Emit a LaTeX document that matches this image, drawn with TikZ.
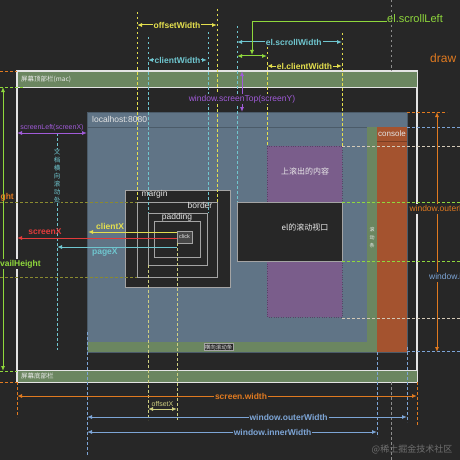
\documentclass[tikz,border=0pt]{standalone}
\usepackage{fontspec}
\setmainfont{Liberation Sans}
\newfontfamily\cjk{Noto Sans CJK SC}
\usetikzlibrary{arrows.meta}
\definecolor{bg}{HTML}{272727}
\definecolor{scrline}{HTML}{E4E4E4}
\definecolor{bargreen}{HTML}{6B8660}
\definecolor{slate}{HTML}{607486}
\definecolor{slatedark}{HTML}{4B5B69}
\definecolor{plum}{HTML}{7A5D8B}
\definecolor{plumdark}{HTML}{5A4168}
\definecolor{sienna}{HTML}{A4532F}
\definecolor{boxgray}{HTML}{A4A4A4}
\definecolor{yel}{HTML}{E4DF4E}
\definecolor{cyn}{HTML}{6FC6CF}
\definecolor{lime}{HTML}{8FD83C}
\definecolor{purp}{HTML}{A15BD9}
\definecolor{orng}{HTML}{E07A20}
\definecolor{redc}{HTML}{E23B3B}
\definecolor{blu}{HTML}{7DA5D6}
\definecolor{olive}{HTML}{8A8A30}
\definecolor{beige}{HTML}{D4CAB8}
\definecolor{paleyel}{HTML}{CFCF80}
\definecolor{dotgray}{HTML}{8C8C8C}
\newcommand{\dimarrow}[6] {\draw [#5, line width=1pt, {Latex[length=5pt,width=4pt]}-{Latex[length=5pt,width=4pt]}] (#1) -- (#2) node [pos=0.5, dimlabel, text=#5, #6] (#3) {#4};}
\newcommand{\ptrarrow}[6] {\draw [#5, line width=1pt, -{Latex[length=5pt,width=4pt]}] (#1) -- (#2) node [ptrlabel, text=#5, #6] (#3) {#4};}
\newcommand{\guide}[4] {\draw [guide, #1] (#2,#3) -- (#2,#4);}
\newcommand{\hguide}[4] {\draw [guide, #1] (#3,#2) -- (#4,#2);}

\begin{document}
\begin{tikzpicture}[x=1pt, y=-1pt,
  guide/.style={line width=0.9pt, dash pattern=on 2.5pt off 2.5pt},
  dimlabel/.style={fill=bg, inner sep=1pt, font=\bfseries\fontsize{8.5}{10}\selectfont},
  ptrlabel/.style={inner sep=1pt, font=\bfseries\fontsize{8.5}{10}\selectfont},
  paneltext/.style={inner sep=0pt, text=scrline, font=\fontsize{8.5}{10}\selectfont},
  cjktext/.style={inner sep=0pt, text=white!92!black, font=\cjk\fontsize{8}{9}\selectfont}]
\fill [bg] (0,0) rectangle (460,460);
\useasboundingbox (0,0) rectangle (460,460);
\clip (0,0) rectangle (460,460);

% screen
\draw [scrline, line width=1.3pt] (17,71) rectangle (417,382);
\draw [scrline, line width=1pt, fill=bargreen] (17,71) rectangle (417,87);
\draw [scrline, line width=1pt, fill=bargreen] (17,370) rectangle (417,382);
\node [cjktext, anchor=west, font=\cjk\fontsize{6.5}{7}\selectfont] (topbar) at (21,79) {屏幕顶部栏(mac)};
\node [cjktext, anchor=west, font=\cjk\fontsize{6.5}{7}\selectfont] (bottombar) at (21,376) {屏幕底部栏};

% browser
\fill [slate] (87,112) rectangle (407,352);
\draw [slatedark, line width=1pt] (87,127) -- (407,127);
\fill [bargreen] (87,342) rectangle (367,352);
\fill [bargreen] (367,127) rectangle (377,352);
\fill [sienna] (377,127) rectangle (407,352);
\draw [sienna!75!black] (377,141.5) -- (407,141.5);
\draw [slatedark, line width=0.8pt] (87,112) rectangle (407,352);
\node [paneltext, anchor=west] (host) at (92,119.5) {localhost:8080};
\node [paneltext, font=\fontsize{8}{9}\selectfont] (console) at (392,134) {console};
\node [cjktext, fill=bg, draw=boxgray, inner sep=1pt, font=\cjk\fontsize{5.5}{6}\selectfont] (hbar) at (218.5,347) {横向滚动条};
\node [cjktext, align=center, font=\cjk\fontsize{5}{8}\selectfont] (vbar) at (372,238) {滚\\动\\条};

% element scrolling
\draw [plumdark, fill=plum, dotted] (267,146) rectangle (342,317);
\node [cjktext] (upout) at (305,171) {上滚出的内容};
\draw [boxgray, fill=bg, line width=0.8pt] (237,202) rectangle (342,261);
\node [cjktext] (viewport) at (305,227) {el的滚动视口};

% box model
\draw [boxgray, fill=bg, line width=0.8pt] (125,190) rectangle (230,287);
\draw [boxgray, line width=0.8pt] (137,202) rectangle (217,277);
\draw [boxgray, line width=0.8pt] (148,213) rectangle (207,265);
\draw [boxgray, line width=0.8pt] (154,221) rectangle (200,257);
\node [paneltext] (margin) at (154.5,194) {margin};
\node [paneltext] (border) at (200,205) {border};
\node [paneltext] (padding) at (177,217) {padding};
\node [draw=boxgray, fill=bg!85!white, line width=0.8pt, minimum width=15pt, minimum height=12pt, inner sep=0pt, text=scrline, font=\fontsize{5.5}{6}\selectfont] (click) at (184.5,237) {click};

% guides
\guide{yel}{137}{12}{202}
\guide{yel}{217}{9}{202}
\guide{cyn}{148}{37}{213}
\guide{cyn}{208}{32}{213}
\guide{cyn}{237}{26}{202}
\guide{yel}{267}{47}{146}
\guide{yel}{342}{33}{146}
\guide{cyn}{57}{133}{350}
\guide{paleyel}{148}{265}{420}
\guide{paleyel}{177}{243}{420}
\guide{orng}{17}{382}{417}
\guide{orng}{417}{382}{426}
\guide{blu}{87}{332}{455}
\guide{blu}{377}{352}{437}
\guide{blu}{407}{347}{422}
\guide{dotgray}{391}{0}{71}
\guide{dotgray}{391}{382}{460}
\hguide{olive}{202}{0}{137}
\hguide{olive}{277}{0}{137}
\hguide{orng}{71}{0}{17}
\hguide{orng}{382}{0}{17}
\hguide{orng}{112}{407}{447}
\hguide{lime}{87}{0}{23}
\hguide{lime}{371}{0}{17}
\hguide{lime}{202}{342}{460}
\hguide{lime}{261}{342}{460}
\hguide{beige}{146}{342}{460}
\hguide{beige}{318}{342}{460}
\hguide{blu}{127}{407}{460}
\hguide{blu}{351}{407}{460}
\node [inner sep=0.5pt, fill=bg, text=cyn, align=center, font=\cjk\fontsize{6.5}{7.9}\selectfont] (docscroll) at (57,176) {文\\档\\横\\向\\滚\\动\\处};

% widths on top
\coordinate (owL) at (137,25); \coordinate (owR) at (217,25);
\dimarrow{owL}{owR}{offsetW}{offsetWidth}{yel}{}
\coordinate (cwL) at (148,60); \coordinate (cwR) at (207,60);
\dimarrow{cwL}{cwR}{clientW}{clientWidth}{cyn}{}
\coordinate (swL) at (237,42); \coordinate (swR) at (342,42);
\dimarrow{swL}{swR}{scrollW}{el.scrollWidth}{cyn}{pos=0.54}
\coordinate (slL) at (237,56); \coordinate (slR) at (267,56);
\draw [lime, line width=1pt, {Latex[length=5pt,width=4pt]}-{Latex[length=5pt,width=4pt]}] (slL) -- (slR);
\coordinate (ecwL) at (267,66); \coordinate (ecwR) at (342,66);
\dimarrow{ecwL}{ecwR}{elclientW}{el.clientWidth}{yel}{}
\node [lime, anchor=west, inner sep=0pt, font=\fontsize{11}{12}\selectfont] (scrollleft) at (387,19) {el.scrollLeft};
\coordinate (slBend) at (252,22); \coordinate (slTip) at (252,55);
\draw [lime, line width=1pt, -{Latex[length=5pt,width=4pt]}] (scrollleft.west |- slBend) -- (slBend) -- (slTip);
\node [orng, anchor=west, inner sep=0pt, font=\fontsize{12}{13}\selectfont] (drawer) at (430,58) {draw};

% window position
\coordinate (stT) at (242,71); \coordinate (stB) at (242,112);
\dimarrow{stT}{stB}{screenTop}{window.screenTop(screenY)}{purp}{pos=0.68, font=\fontsize{8.5}{10}\selectfont}
\coordinate (sxL) at (17,133); \coordinate (sxR) at (87,133);
\dimarrow{sxL}{sxR}{screenLeft}{screenLeft(screenX)}{purp}{above=1pt, fill=none, font=\fontsize{7}{8}\selectfont}

% mouse position
\coordinate (clientXend) at (88,232);
\ptrarrow{[yshift=5pt]click.west}{clientXend}{clientX}{clientX}{yel}{pos=0.75, above=0.5pt}
\coordinate (screenXend) at (17,238);
\ptrarrow{[yshift=-1pt]click.west}{screenXend}{screenX}{screenX}{redc}{pos=0.825, above=1.5pt}
\coordinate (pageXend) at (57,247);
\ptrarrow{[yshift=-10pt]click.west}{pageXend}{pageX}{pageX}{cyn}{pos=0.6, below=0.5pt}
\coordinate (oxL) at (148,409); \coordinate (oxR) at (177,409);
\dimarrow{oxL}{oxR}{offsetX}{offsetX}{paleyel}{above=0.5pt, fill=none, font=\fontsize{7}{8}\selectfont}

% heights
\coordinate (ahT) at (3,87); \coordinate (ahB) at (3,371);
\dimarrow{ahT}{ahB}{availH}{availHeight}{lime}{pos=0.623, xshift=15pt}
\node [dimlabel, fill=none, text=orng, anchor=east] (screenH) at (15,197) {screen.height};
\coordinate (ohT) at (437,112); \coordinate (ohB) at (437,352);
\dimarrow{ohT}{ohB}{outerH}{window.outerHeight}{orng}{pos=0.404, anchor=west, xshift=-29pt, font=\fontsize{8.5}{10}\selectfont}
\node [dimlabel, text=blu, anchor=west, font=\fontsize{8.5}{10}\selectfont] (innerH) at (428,277) {window.innerHeight};

% widths at bottom
\coordinate (swdL) at (17,396); \coordinate (swdR) at (417,396);
\dimarrow{swdL}{swdR}{screenW}{screen.width}{orng}{pos=0.56}
\coordinate (owdL) at (87,417); \coordinate (owdR) at (407,417);
\dimarrow{owdL}{owdR}{outerW}{window.outerWidth}{blu}{pos=0.63}
\coordinate (iwdL) at (87,432); \coordinate (iwdR) at (377,432);
\dimarrow{iwdL}{iwdR}{innerW}{window.innerWidth}{blu}{pos=0.64}

\node [text=dotgray!80!black, inner sep=0pt, font=\cjk\fontsize{9}{10}\selectfont] (mark) at (412,449) {@稀土掘金技术社区};
\end{tikzpicture}
\end{document}
